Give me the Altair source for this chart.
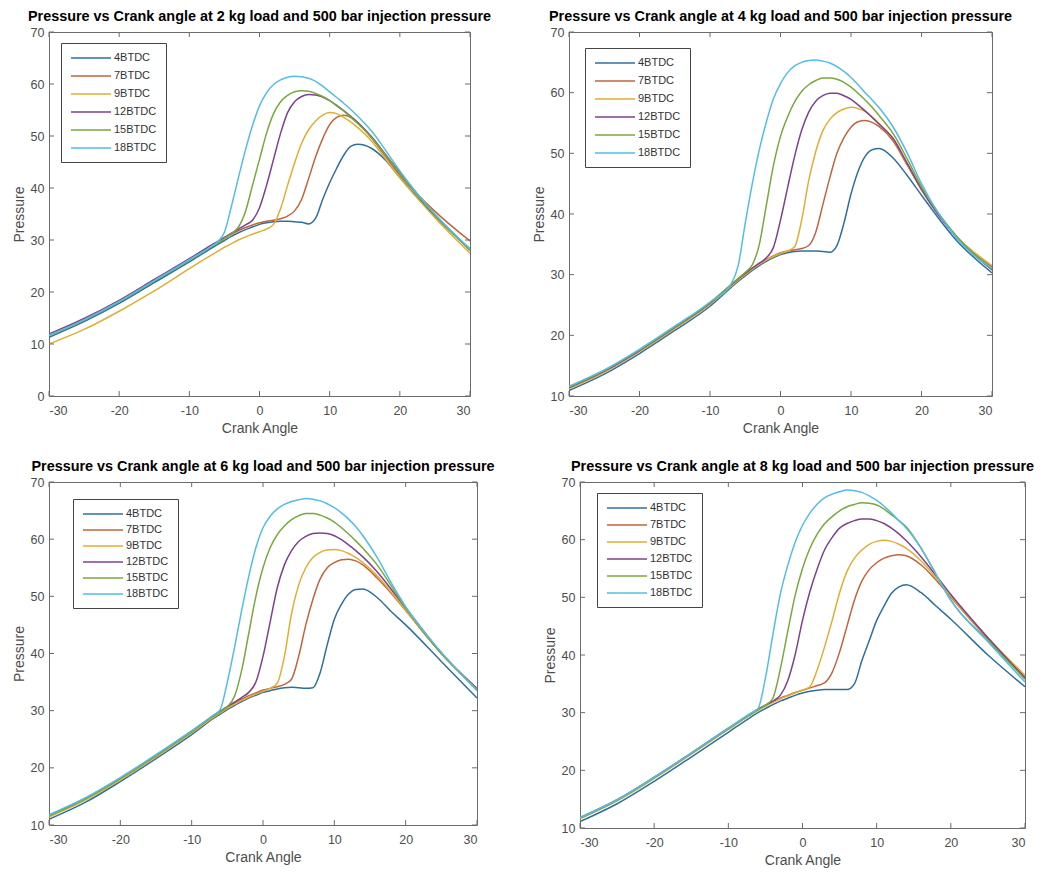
import altair as alt
import pandas as pd

ANGLES = [-30, -25, -20, -15, -10, -7, -6, -5, -4, -3, -2, -1, 0, 1, 2, 3, 4, 5, 6, 7,
          8, 9, 10, 11, 12, 13, 14, 16, 18, 20, 25, 30]
SERIES = ["4BTDC", "7BTDC", "9BTDC", "12BTDC", "15BTDC", "18BTDC"]
COLORS = ["#2f6f9c", "#c0653c", "#e2ad35", "#7e418e", "#79a83d", "#52bde6"]
X_TICKS = [-30, -20, -10, 0, 10, 20, 30]
Y_TICKS_2KG = [0, 10, 20, 30, 40, 50, 60, 70]
Y_TICKS = [10, 20, 30, 40, 50, 60, 70]

KG2 = {
    "4BTDC": [11.3, 14.3, 17.8, 21.8, 25.8, 28.3, 29.1, 29.9, 30.7, 31.4, 32.0, 32.5, 33.0, 33.3, 33.5, 33.6,
              33.6, 33.5, 33.4, 33.1, 34.2, 37.8, 41.0, 43.8, 46.3, 48.0, 48.4, 47.6, 45.3, 42.0, 34.6, 28.2],
    "7BTDC": [11.8, 14.8, 18.3, 22.3, 26.2, 28.7, 29.5, 30.3, 31.1, 31.8, 32.4, 32.9, 33.3, 33.6, 33.8, 34.1,
              34.6, 35.6, 37.8, 41.8, 46.0, 49.5, 52.2, 53.6, 54.0, 53.6, 52.6, 49.6, 46.0, 42.5, 35.5, 29.8],
    "9BTDC": [10.0, 12.8, 16.3, 20.2, 24.5, 27.0, 27.8, 28.6, 29.3, 30.0, 30.6, 31.1, 31.6, 32.1, 33.0, 36.0,
              40.5, 44.8, 48.6, 51.2, 52.9, 54.0, 54.5, 54.3, 53.6, 52.7, 51.6, 49.0, 45.5, 42.0, 34.3, 27.5],
    "12BTDC": [11.9, 14.9, 18.4, 22.4, 26.4, 28.9, 29.7, 30.5, 31.3, 32.1, 32.9, 33.8, 36.2, 40.5, 45.5, 50.5,
               54.5, 56.6, 57.6, 58.0, 57.9, 57.5, 56.8, 55.9, 54.9, 53.8, 52.6, 49.8, 46.4, 43.0, 34.8, 28.2],
    "15BTDC": [11.6, 14.6, 18.1, 22.1, 26.1, 28.6, 29.4, 30.3, 31.2, 32.5, 35.5, 40.5, 45.5, 50.5, 54.3, 56.6,
               57.8, 58.5, 58.7, 58.6, 58.2, 57.6, 56.8, 55.8, 54.8, 53.6, 52.4, 49.6, 46.3, 42.8, 34.8, 28.0],
    "18BTDC": [11.7, 14.7, 18.2, 22.2, 26.2, 28.7, 29.6, 31.5, 36.5, 42.0, 47.3, 52.0, 55.8, 58.3, 59.9, 60.8,
               61.3, 61.5, 61.4, 61.1, 60.5, 59.6, 58.5, 57.4, 56.3, 55.1, 53.8, 50.9, 47.2, 43.3, 35.0, 28.3],
}

KG4 = {
    "4BTDC": [10.9, 13.6, 17.0, 20.8, 24.8, 27.9, 28.9, 29.8, 30.7, 31.5, 32.2, 32.8, 33.3, 33.6, 33.8, 33.9,
              33.9, 33.9, 33.8, 33.7, 34.8, 38.5, 43.3, 47.0, 49.5, 50.6, 50.8, 49.2, 46.3, 43.1, 35.6, 30.3],
    "7BTDC": [11.3, 14.0, 17.4, 21.2, 25.2, 28.2, 29.2, 30.1, 31.0, 31.8, 32.5, 33.1, 33.6, 33.9, 34.1, 34.3,
              34.8, 37.0, 41.5, 46.0, 50.0, 52.6, 54.3, 55.2, 55.4, 55.1, 54.4, 52.0, 48.0, 44.0, 36.2, 31.3],
    "9BTDC": [11.2, 13.9, 17.3, 21.1, 25.1, 28.1, 29.1, 30.0, 30.9, 31.7, 32.4, 33.0, 33.5, 33.9, 34.6, 39.0,
              45.5, 50.3, 53.7, 55.6, 56.7, 57.3, 57.6, 57.4, 56.9, 56.0, 54.9, 52.3, 48.2, 44.0, 36.3, 31.5],
    "12BTDC": [11.4, 14.1, 17.5, 21.3, 25.3, 28.3, 29.3, 30.2, 31.1, 31.9, 32.8, 34.5, 39.0, 44.3, 49.5, 53.8,
               56.8, 58.6, 59.5, 59.9, 59.9, 59.5, 58.9, 58.0, 57.0, 55.9, 54.8, 52.4, 48.3, 44.1, 36.1, 30.8],
    "15BTDC": [11.5, 14.2, 17.6, 21.4, 25.4, 28.4, 29.4, 30.4, 31.6, 35.0, 41.5, 48.0, 52.8, 56.0, 58.5, 60.2,
               61.3, 62.0, 62.4, 62.4, 62.2, 61.7, 60.9, 59.9, 58.8, 57.6, 56.2, 53.2, 49.0, 44.5, 36.3, 31.0],
    "18BTDC": [11.6, 14.3, 17.7, 21.5, 25.5, 28.5, 31.5, 38.5, 45.0, 50.6, 55.2, 59.0, 61.5, 63.3, 64.4, 65.0,
               65.3, 65.4, 65.2, 64.9, 64.3, 63.5, 62.5, 61.3, 60.0, 58.8, 57.5, 54.3, 50.0, 45.0, 36.0, 31.0],
}

KG6 = {
    "4BTDC": [11.0, 13.9, 17.6, 21.6, 25.8, 28.6, 29.4, 30.2, 30.9, 31.6, 32.2, 32.7, 33.2, 33.5, 33.8, 34.0,
              34.1, 34.0, 33.9, 34.0, 36.6, 41.5, 46.0, 48.6, 50.4, 51.2, 51.3, 49.8, 47.3, 45.0, 38.6, 32.2],
    "7BTDC": [11.6, 14.5, 18.1, 22.1, 26.3, 29.0, 29.8, 30.6, 31.3, 32.0, 32.6, 33.1, 33.6, 33.9, 34.2, 34.6,
              35.5, 39.5, 45.0, 49.5, 53.0, 55.0, 55.9, 56.4, 56.5, 56.2, 55.5, 53.2, 50.5, 47.5, 40.0, 33.8],
    "9BTDC": [11.4, 14.3, 17.9, 21.9, 26.1, 28.8, 29.6, 30.4, 31.1, 31.8, 32.4, 32.9, 33.4, 33.9, 34.8, 39.5,
              47.0, 52.0, 55.0, 56.8, 57.7, 58.1, 58.2, 58.0, 57.5, 56.8, 55.9, 53.6, 50.7, 47.6, 40.0, 33.6],
    "12BTDC": [11.7, 14.6, 18.2, 22.2, 26.4, 29.1, 29.9, 30.7, 31.5, 32.3, 33.2, 35.0, 39.5, 45.5, 51.5, 55.5,
               58.0, 59.6, 60.5, 61.0, 61.1, 61.0, 60.6, 59.9, 59.0, 58.0, 56.9, 54.3, 51.2, 48.0, 40.1, 33.9],
    "15BTDC": [11.6, 14.5, 18.1, 22.1, 26.3, 29.0, 29.8, 30.7, 32.5, 37.0, 43.5, 50.0, 55.0, 58.5, 60.8, 62.3,
               63.4, 64.1, 64.5, 64.5, 64.2, 63.7, 63.0, 62.0, 60.9, 59.7, 58.4, 55.5, 51.8, 48.0, 40.0, 33.8],
    "18BTDC": [11.8, 14.7, 18.3, 22.3, 26.5, 29.2, 30.2, 35.0, 41.0, 47.5, 53.5, 58.5, 62.0, 64.0, 65.3, 66.1,
               66.6, 66.9, 67.1, 67.0, 66.7, 66.2, 65.5, 64.6, 63.5, 62.2, 60.6, 56.8, 52.3, 48.2, 40.2, 33.5],
}

KG8 = {
    "4BTDC": [11.1, 14.2, 18.1, 22.3, 26.6, 29.2, 30.0, 30.7, 31.4, 32.0, 32.5, 33.0, 33.4, 33.7, 33.9, 34.0,
              34.0, 34.0, 34.0, 35.0, 39.0, 42.5, 46.0, 48.5, 50.7, 51.8, 52.2, 50.8, 48.5, 46.2, 40.0, 34.5],
    "7BTDC": [11.7, 14.8, 18.7, 22.9, 27.2, 29.7, 30.5, 31.2, 31.9, 32.5, 33.0, 33.5, 33.9, 34.3, 34.7, 35.2,
              37.0, 40.5, 45.0, 49.5, 52.8, 54.8, 56.0, 56.8, 57.2, 57.4, 57.2, 55.6, 53.0, 50.0, 42.8, 36.2],
    "9BTDC": [11.6, 14.7, 18.6, 22.8, 27.1, 29.6, 30.4, 31.1, 31.8, 32.4, 32.9, 33.4, 33.9, 34.5, 37.5, 41.5,
              46.0, 50.8, 54.5, 56.8, 58.2, 59.2, 59.7, 59.9, 59.7, 59.2, 58.5, 56.3, 53.4, 50.2, 43.0, 36.5],
    "12BTDC": [11.8, 14.9, 18.8, 23.0, 27.3, 29.8, 30.6, 31.3, 32.0, 33.0, 35.5, 40.0, 46.0, 51.0, 55.0, 58.3,
               60.4, 62.0, 62.8, 63.3, 63.6, 63.6, 63.3, 62.8, 62.0, 61.0, 59.8, 57.0, 53.8, 50.5, 43.0, 36.0],
    "15BTDC": [11.7, 14.8, 18.7, 22.9, 27.2, 29.7, 30.5, 31.3, 32.5, 37.5, 44.0, 50.3, 55.0, 58.5, 61.0, 62.8,
               64.0, 65.0, 65.7, 66.1, 66.4, 66.3, 66.0, 65.3, 64.3, 63.3, 62.2, 58.5, 54.0, 49.5, 42.5, 35.8],
    "18BTDC": [11.8, 14.9, 18.8, 23.0, 27.3, 29.9, 30.7, 36.0, 43.5, 50.5, 55.5, 59.5, 62.5, 64.6, 66.2, 67.3,
               67.9, 68.3, 68.6, 68.5, 68.2, 67.6, 66.8, 65.8, 64.6, 63.3, 62.0, 58.5, 54.0, 49.5, 42.3, 35.3],
}

FONT = "Liberation Sans"
FRAME = "#6b6b6b"


def panel(load, values, y_ticks, w, h, lx, ly, row_pad):
    rows = []
    for s in SERIES:
        for a, p in zip(ANGLES, values[s]):
            rows.append({"angle": a, "pressure": p, "series": s})
    df = pd.DataFrame(rows)
    xs = alt.Scale(domain=[-30, 30], nice=False, zero=False)
    ys = alt.Scale(domain=[y_ticks[0], 70], nice=False, zero=False)

    lines = alt.Chart(df).mark_line(strokeWidth=1.5, interpolate="monotone", clip=True).encode(
        x=alt.X("angle:Q", scale=xs, title="Crank Angle",
                axis=alt.Axis(values=X_TICKS, labelPadding=8, titlePadding=5,
                              labelExpr="toString(datum.value)")),
        y=alt.Y("pressure:Q", scale=ys, title="Pressure",
                axis=alt.Axis(values=y_ticks, labelPadding=5, titlePadding=4)),
        color=alt.Color("series:N", sort=SERIES, title=None,
                        scale=alt.Scale(domain=SERIES, range=COLORS),
                        legend=alt.Legend(orient="none", legendX=lx, legendY=ly,
                                          direction="vertical",
                                          symbolType="M-4,0H4", symbolSize=100,
                                          symbolOffset=15, symbolStrokeWidth=1.6,
                                          labelOffset=17, labelFont=FONT, labelFontSize=11,
                                          labelColor="#333333", rowPadding=row_pad,
                                          padding=9, strokeColor="#444444",
                                          fillColor="white")),
    )
    xt = pd.DataFrame({"angle": X_TICKS})
    yt = pd.DataFrame({"pressure": y_ticks})
    tick_style = dict(color=FRAME, strokeWidth=1)
    xb = alt.Chart(xt).mark_rule(**tick_style).encode(
        x=alt.X("angle:Q", scale=xs), y=alt.value(h), y2=alt.value(h - 5))
    xtop = alt.Chart(xt).mark_rule(**tick_style).encode(
        x=alt.X("angle:Q", scale=xs), y=alt.value(0), y2=alt.value(5))
    yl = alt.Chart(yt).mark_rule(**tick_style).encode(
        y=alt.Y("pressure:Q", scale=ys), x=alt.value(0), x2=alt.value(5))
    yr = alt.Chart(yt).mark_rule(**tick_style).encode(
        y=alt.Y("pressure:Q", scale=ys), x=alt.value(w), x2=alt.value(w - 5))

    title = f"Pressure vs Crank angle at {load} kg load and 500 bar injection pressure"
    return alt.layer(lines, xb, xtop, yl, yr).properties(
        width=w, height=h,
        title=alt.TitleParams(title, font=FONT, fontSize=14.4, fontWeight="bold",
                              color="black", anchor="middle", offset=2),
    )


p1 = panel(2, KG2, Y_TICKS_2KG, 421, 364, 12, 11, 7)
p2 = panel(4, KG4, Y_TICKS, 423, 364, 16, 16, 7)
p3 = panel(6, KG6, Y_TICKS, 428, 343, 24, 17, 5)
p4 = panel(8, KG8, Y_TICKS, 445, 346, 17, 11, 6)

top = alt.hconcat(p1, p2, spacing=99, bounds="flush").resolve_scale(
    color="independent").resolve_legend(color="independent")
bottom = alt.hconcat(p3, p4, spacing=103, bounds="flush").resolve_scale(
    color="independent").resolve_legend(color="independent")
chart = alt.vconcat(top, bottom, spacing=22).resolve_scale(
    color="independent"
).resolve_legend(
    color="independent"
).properties(
    padding={"left": 3, "top": 0, "right": 5, "bottom": 0}
).configure_view(
    stroke=FRAME, strokeWidth=1
).configure_axis(
    domain=False, ticks=False, grid=False,
    labelFont=FONT, labelFontSize=12.5, labelColor="#4d4d4d",
    titleFont=FONT, titleFontSize=14, titleFontWeight="normal", titleColor="#4d4d4d",
)

chart.save("out.html", embed_options={"renderer": "svg", "actions": False})
